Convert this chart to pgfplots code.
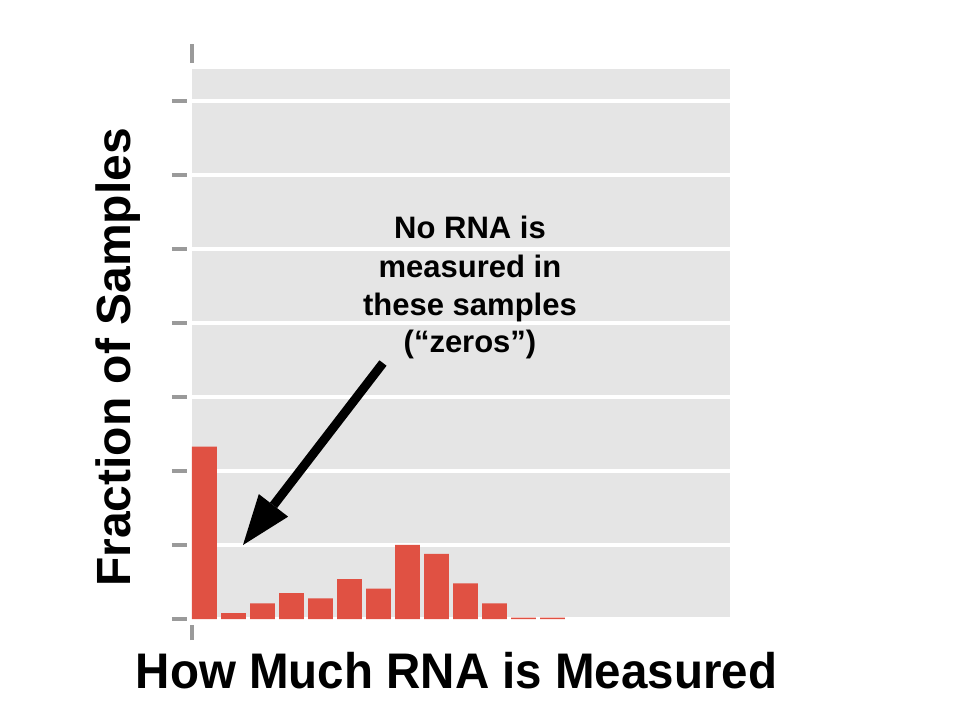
\documentclass[border=0pt]{standalone}
\usepackage{fontspec}
\setmainfont{Liberation Sans}
\usepackage{pgfplots}
\pgfplotsset{compat=1.18}
\usetikzlibrary{arrows.meta}

\definecolor{bggray}{HTML}{E5E5E5}
\definecolor{barred}{HTML}{E05143}
\definecolor{tickgray}{HTML}{9A9A9A}

\begin{document}
% 1 unit = 1 pixel of the 960x720 reference, y measured upwards
\begin{tikzpicture}[x=0.5pt, y=0.5pt]
\useasboundingbox (0,0) rectangle (960,720);
\begin{axis}[
  at={(96pt,50.5pt)}, anchor=south west,
  scale only axis, width=269pt, height=275pt,
  xmin=0, xmax=18.55, ymin=0, ymax=7.43,
  axis background/.style={fill=bggray},
  axis line style={draw=none},
  ytick={0,...,7}, yticklabels={},
  xtick={0}, xticklabels={},
  ymajorgrids, grid style={white, line width=2pt},
  tick align=outside, major tick length=7.5pt,
  xtick pos=bottom, ytick pos=left,
  tick style={draw=tickgray, line width=2pt},
  ytick style={xshift=-2.5pt},
  xtick style={yshift=-3pt},
  clip=false,
]
\addplot[ybar, bar width=0.86, bar shift=0pt, fill=barred, draw=none]
  coordinates {(0.43,2.33) (1.43,0.08) (2.43,0.21) (3.43,0.35) (4.43,0.28)
               (5.43,0.54) (6.43,0.41) (7.43,1.00) (8.43,0.88) (9.43,0.48)
               (10.43,0.21) (11.43,0.02) (12.43,0.02)};
\end{axis}
% top tick mark above the panel
\draw[tickgray, line width=2pt] (192,676) -- (192,657);
% annotation
\draw[line width=4.5pt, -{Triangle[length=25pt, width=18.5pt, line width=0pt]}] (383,357) -- (243,175);
\node[anchor=base, font=\fontsize{15.5pt}{19pt}\selectfont\bfseries] at (470,482) {No RNA is};
\node[anchor=base, font=\fontsize{15.5pt}{19pt}\selectfont\bfseries] at (470,443) {measured in};
\node[anchor=base, font=\fontsize{15.5pt}{19pt}\selectfont\bfseries] at (470,405) {these samples};
\node[anchor=base, font=\fontsize{15.5pt}{19pt}\selectfont\bfseries] at (470,368) {(“zeros”)};
% axis titles
\node[rotate=90, anchor=base, font=\fontsize{24pt}{28pt}\selectfont\bfseries] at (130,362.5) {Fraction of Samples};
\node[anchor=base, font=\fontsize{25pt}{29pt}\selectfont\bfseries] at (456.5,32) {\scalebox{0.95}[1]{How Much RNA is Measured}};
\end{tikzpicture}
\end{document}
